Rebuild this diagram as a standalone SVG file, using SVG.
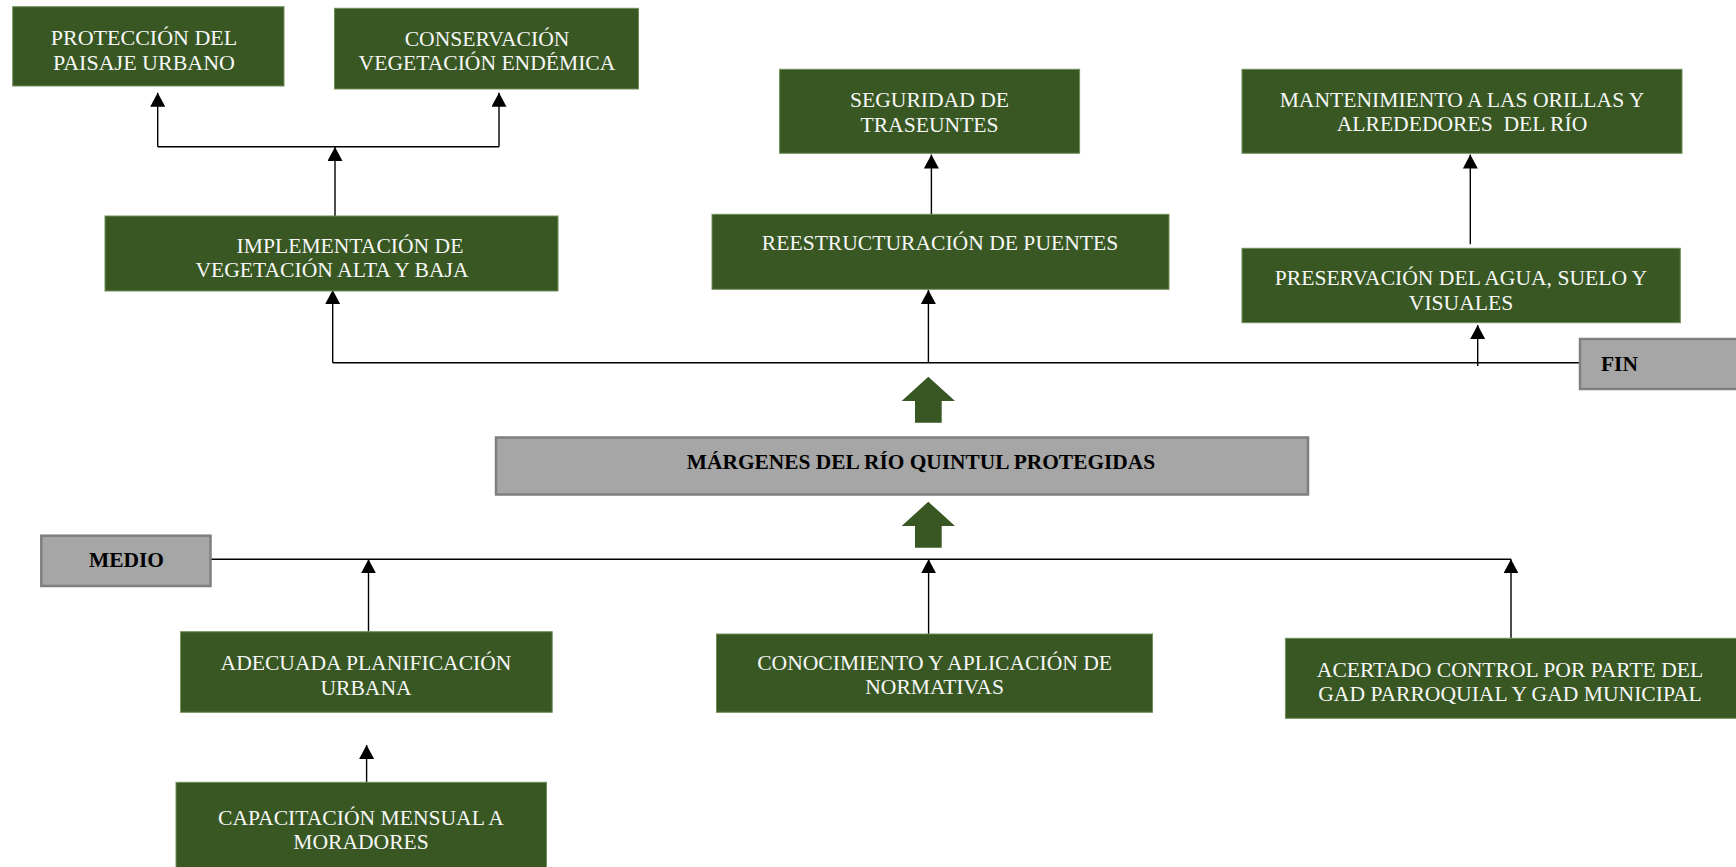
<svg xmlns="http://www.w3.org/2000/svg" width="1736" height="867" viewBox="0 0 1736 867">
<defs>
<marker id="ah" markerUnits="userSpaceOnUse" markerWidth="14" markerHeight="15" refX="14" refY="7.5" orient="auto" viewBox="0 0 14 15"><path d="M0,0 L14,7.5 L0,15 z" fill="#000"/></marker>
<style>
.g{fill:#385723;stroke:#6f8f5a;stroke-width:1}
.gr{fill:#a6a6a6;stroke:#7f7f7f;stroke-width:2.5}
.t{font-family:"Liberation Serif","Times New Roman",serif;font-size:21.6px;fill:#f7f7f7;text-anchor:middle}
.b{font-family:"Liberation Serif","Times New Roman",serif;font-size:21.4px;font-weight:bold;fill:#000}
.c{stroke:#000;stroke-width:1.4;fill:none}
.a{marker-end:url(#ah)}
.ba{fill:#385723}
</style>
</defs>
<rect x="0" y="0" width="1736" height="867" fill="#fff"/>

<g id="connectors">
<path class="c" d="M157.7,146.7 H499"/>
<path class="c a" d="M335,216 V147"/>
<path class="c a" d="M157.7,146.7 V92.7"/>
<path class="c a" d="M499,146.7 V92.7"/>
<path class="c a" d="M931.4,214.3 V154.5"/>
<path class="c a" d="M1470.3,244.3 V154.5"/>
<path class="c" d="M332.7,362.7 H1579"/>
<path class="c a" d="M332.7,362.7 V290"/>
<path class="c a" d="M928.4,362.7 V290"/>
<path class="c a" d="M1477.7,366 V325"/>
<path class="c" d="M210.5,559.3 H1511"/>
<path class="c a" d="M368.5,631.7 V559.3"/>
<path class="c a" d="M928.6,634 V559.3"/>
<path class="c a" d="M1511,638 V559.3"/>
<path class="c a" d="M366.6,782.3 V745"/>
</g>

<g id="flow-arrows">
<polygon class="ba" points="928.3,376.7 955,401 941.7,401 941.7,422.7 915,422.7 915,401 901.7,401"/>
<polygon class="ba" points="928.3,501.7 955,526 941.7,526 941.7,547.7 915,547.7 915,526 901.7,526"/>
</g>

<g id="n-proteccion">
<rect class="g" x="12.7" y="6.7" width="271.3" height="79.3"/>
<text class="t" style="font-size:22px"><tspan x="144" y="45">PROTECCIÓN DEL</tspan><tspan x="144" y="69.5">PAISAJE URBANO</tspan></text>
</g>
<g id="n-conservacion">
<rect class="g" x="334.5" y="8.3" width="304" height="80.7"/>
<text class="t"><tspan x="487" y="45.5">CONSERVACIÓN</tspan><tspan x="487" y="70">VEGETACIÓN ENDÉMICA</tspan></text>
</g>
<g id="n-seguridad">
<rect class="g" x="779.6" y="69.3" width="300" height="84"/>
<text class="t"><tspan x="929.5" y="107">SEGURIDAD DE</tspan><tspan x="929.5" y="131.5">TRASEUNTES</tspan></text>
</g>
<g id="n-mantenimiento">
<rect class="g" x="1242" y="69.3" width="440" height="84"/>
<text class="t" style="white-space:pre"><tspan x="1462" y="106.5">MANTENIMIENTO A LAS ORILLAS Y</tspan><tspan x="1462" y="131">ALREDEDORES  DEL RÍO</tspan></text>
</g>
<g id="n-implementacion">
<rect class="g" x="105" y="216" width="453" height="75"/>
<text class="t"><tspan x="350" y="252.5">IMPLEMENTACIÓN DE</tspan><tspan x="332" y="277">VEGETACIÓN ALTA Y BAJA</tspan></text>
</g>
<g id="n-reestructuracion">
<rect class="g" x="712" y="214.3" width="457" height="75"/>
<text class="t"><tspan x="940" y="250">REESTRUCTURACIÓN DE PUENTES</tspan></text>
</g>
<g id="n-preservacion">
<rect class="g" x="1242" y="248.3" width="438.3" height="74.4"/>
<text class="t"><tspan x="1461" y="285">PRESERVACIÓN DEL AGUA, SUELO Y</tspan><tspan x="1461" y="309.5">VISUALES</tspan></text>
</g>
<g id="n-fin">
<rect class="gr" x="1580" y="339" width="160" height="50"/>
<text class="b" x="1601" y="370.7">FIN</text>
</g>
<g id="n-margenes">
<rect class="gr" x="496" y="437.5" width="812" height="57"/>
<text class="b" x="921" y="469" text-anchor="middle">MÁRGENES DEL RÍO QUINTUL PROTEGIDAS</text>
</g>
<g id="n-medio">
<rect class="gr" x="41.3" y="535.7" width="169.2" height="50.3"/>
<text class="b" x="89" y="566.7">MEDIO</text>
</g>
<g id="n-adecuada">
<rect class="g" x="180.6" y="631.7" width="371.6" height="80.6"/>
<text class="t"><tspan x="366" y="670">ADECUADA PLANIFICACIÓN</tspan><tspan x="366" y="694.5">URBANA</tspan></text>
</g>
<g id="n-conocimiento">
<rect class="g" x="716.5" y="634" width="436" height="78.3"/>
<text class="t"><tspan x="934.6" y="669.5">CONOCIMIENTO Y APLICACIÓN DE</tspan><tspan x="934.6" y="694">NORMATIVAS</tspan></text>
</g>
<g id="n-acertado">
<rect class="g" x="1285.4" y="638.3" width="452" height="80"/>
<text class="t"><tspan x="1510" y="676.5">ACERTADO CONTROL POR PARTE DEL</tspan><tspan x="1510" y="701">GAD PARROQUIAL Y GAD MUNICIPAL</tspan></text>
</g>
<g id="n-capacitacion">
<rect class="g" x="176" y="782.3" width="370.5" height="86"/>
<text class="t"><tspan x="361" y="824.5">CAPACITACIÓN MENSUAL A</tspan><tspan x="361" y="849">MORADORES</tspan></text>
</g>
</svg>
